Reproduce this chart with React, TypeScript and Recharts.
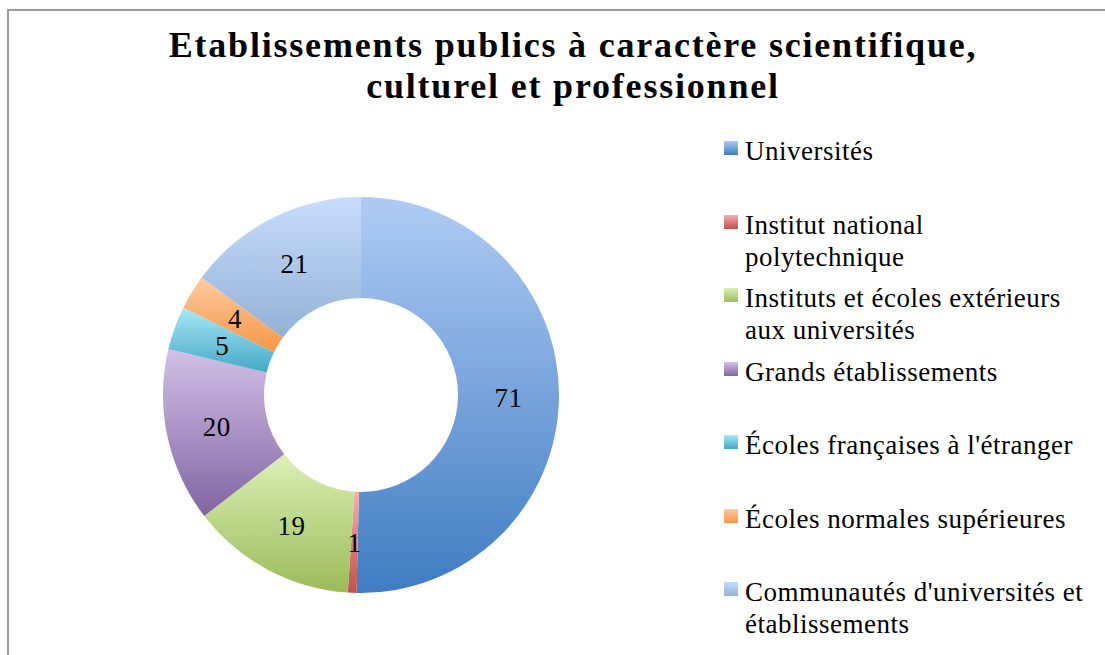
import React from 'react'
import { Cell, Legend, Pie, PieChart } from 'recharts'

const categories = [
    'Universités',
    'Institut national polytechnique',
    'Instituts et écoles extérieurs aux universités',
    'Grands établissements',
    'Écoles françaises à l\'étranger',
    'Écoles normales supérieures',
    'Communautés d\'universités et établissements'
]

// how Excel wrapped the legend entries
const legendLines = [
    ['Universités'],
    ['Institut national', 'polytechnique'],
    ['Instituts et écoles extérieurs', 'aux universités'],
    ['Grands établissements'],
    ['Écoles françaises à l\'étranger'],
    ['Écoles normales supérieures'],
    ['Communautés d\'universités et', 'établissements']
]

const counts = [71, 1, 19, 20, 5, 4, 21]

const topColors = ['#b0cbf4', '#f6aeac', '#dcf0b6', '#d2c0e6', '#a8e8f8', '#fdcaa0', '#c8ddfb']
const bottomColors = ['#3f7cc2', '#c0504d', '#9bbb59', '#8064a2', '#44a8c4', '#f79646', '#93b1d6']

const data = categories.map((name, i) => ({ name, value: counts[i] }))

const FONT = '"Liberation Serif", "DejaVu Serif", serif'
const RADIAN = Math.PI / 180

const renderLabel = (props: any) => {
    const { cx, cy, midAngle, innerRadius, outerRadius, value } = props
    const r = (innerRadius + outerRadius) / 2
    const x = cx + r * Math.cos(-midAngle * RADIAN)
    const y = cy + r * Math.sin(-midAngle * RADIAN)
    return (
        <text
            x={x}
            y={y + 1}
            fill={'#000000'}
            textAnchor={'middle'}
            dominantBaseline={'central'}
            style={{ fontFamily: FONT, fontSize: 27, letterSpacing: 0.5 }}
        >
            {value}
        </text>
    )
}

const renderLegend = () => (
    <div style={{ fontFamily: FONT, fontSize: 27, letterSpacing: 0.5, color: '#000000' }}>
        {legendLines.map((lines, i) => (
            <div
                key={`legend-${i}`}
                style={{ display: 'flex', height: 73.5, alignItems: 'flex-start' }}
            >
                <div
                    style={{
                        width: 14,
                        height: 14,
                        marginTop: 7,
                        marginRight: 7,
                        flexShrink: 0,
                        background: `linear-gradient(${topColors[i]}, ${bottomColors[i]})`
                    }}
                />
                <div style={{ lineHeight: '32px', whiteSpace: 'nowrap', marginTop: 1 }}>
                    {lines.map((l, j) => (
                        <div key={j}>{l}</div>
                    ))}
                </div>
            </div>
        ))}
    </div>
)

const App: React.FC = () => (
    <div
        style={{
            position: 'absolute',
            left: 0,
            top: 0,
            width: 1105,
            height: 655,
            background: '#ffffff',
            overflow: 'hidden'
        }}
    >
        <div
            style={{
                position: 'absolute',
                left: 7,
                top: 9,
                width: 1110,
                height: 660,
                border: '2px solid #9c9c9c',
                boxSizing: 'border-box'
            }}
        />
        <div
            style={{
                position: 'absolute',
                left: 0,
                top: 25,
                width: 1146,
                textAlign: 'center',
                fontFamily: FONT,
                fontWeight: 'bold',
                fontSize: 36,
                letterSpacing: 1.8,
                lineHeight: '41px',
                color: '#000000'
            }}
        >
            Etablissements publics à caractère scientifique,
            <br />
            culturel et professionnel
        </div>
        <div style={{ position: 'absolute', left: 0, top: 0 }}>
            <PieChart
                width={1105}
                height={655}
                margin={{ top: 0, right: 0, bottom: 0, left: 0 }}
            >
                <defs>
                    {topColors.map((c, i) => (
                        <linearGradient key={`g-${i}`} id={`grad-${i}`} x1={0} y1={0} x2={0} y2={1}>
                            <stop offset={'0%'} stopColor={c} />
                            <stop offset={'100%'} stopColor={bottomColors[i]} />
                        </linearGradient>
                    ))}
                </defs>
                <Pie
                    data={data}
                    dataKey={'value'}
                    nameKey={'name'}
                    cx={361}
                    cy={395}
                    innerRadius={97}
                    outerRadius={198}
                    startAngle={90}
                    endAngle={-270}
                    stroke={'none'}
                    label={renderLabel}
                    labelLine={false}
                    isAnimationActive={false}
                >
                    {data.map((entry, index) => (
                        <Cell key={`cell-${index}`} fill={`url(#grad-${index})`} />
                    ))}
                </Pie>
                <Legend
                    content={renderLegend}
                    layout={'vertical'}
                    wrapperStyle={{ left: 724, top: 134, width: 380 }}
                />
            </PieChart>
        </div>
    </div>
)

export default App
